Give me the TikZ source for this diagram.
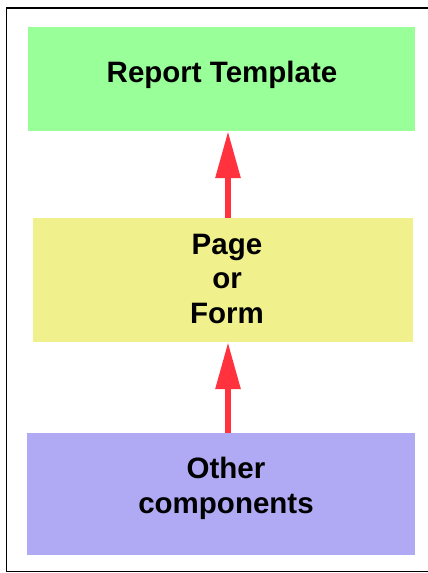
\documentclass[tikz,border=0pt]{standalone}
\usepackage{fontspec}
\setmainfont{Liberation Sans}
\usetikzlibrary{arrows.meta}
\definecolor{tmplgreen}{RGB}{153,255,153}
\definecolor{pageyellow}{RGB}{240,240,140}
\definecolor{compblue}{RGB}{176,170,245}
\definecolor{arrred}{RGB}{255,50,62}
\tikzset{
  box/.style={rectangle, draw=none, inner sep=0pt},
  lbl/.style={inner sep=0pt, align=center, font=\fontsize{29.5}{34.5}\selectfont\bfseries, text=black},
  arr/.style={draw=arrred, line width=6pt, -{Triangle[length=47pt, width=24pt]}},
  frame/.style={draw=black, line width=1.8pt}
}
\begin{document}
\begin{tikzpicture}[x=1pt, y=-1pt]
\useasboundingbox (0,0) rectangle (428,573);
\draw[frame] (6.5,8) rectangle (432,571.5);
\node[box, fill=tmplgreen, minimum width=387pt, minimum height=104pt] (tmpl) at (221.5,79) {};
\node[box, fill=pageyellow, minimum width=380pt, minimum height=124pt] (page) at (223,280) {};
\node[box, fill=compblue, minimum width=388pt, minimum height=122pt] (comp) at (221,494) {};
\node[lbl] (tmplT) at (222,75) {Report Template};
\node[lbl] (pageT) at (227,278.5) {Page\\or\\Form};
\node[lbl] (compT) at (226,488.5) {Other\\components};
\coordinate (ax) at (228,0);
\draw[arr] (page.north -| ax) -- (tmpl.south -| ax);
\draw[arr] (comp.north -| ax) -- (page.south -| ax);
\end{tikzpicture}
\end{document}
